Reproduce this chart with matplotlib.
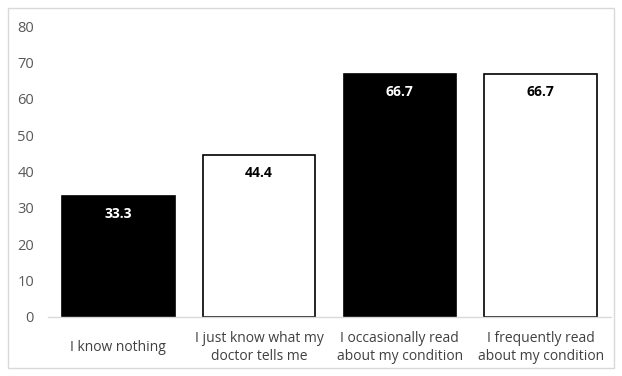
import matplotlib.pyplot as plt
from matplotlib.patches import Rectangle

categories = [
    "I know nothing",
    "I just know what my\ndoctor tells me",
    "I occasionally read\nabout my condition",
    "I frequently read\nabout my condition",
]
values = [33.3, 44.4, 66.7, 66.7]
fill_colors = ["black", "white", "black", "white"]
label_colors = ["white", "black", "white", "black"]

plt.rcParams['font.family'] = ['Open Sans', 'DejaVu Sans']

fig = plt.figure(figsize=(6.22, 3.76), dpi=100)
ax = fig.add_axes([48 / 622, 59 / 376, 563 / 622, 291 / 376])

x = range(len(categories))
bars = ax.bar(x, values, width=0.8, color=fill_colors, edgecolor="black", linewidth=1.2, zorder=2)

for bar, v, c in zip(bars, values, label_colors):
    ax.annotate(f"{v:.1f}", (bar.get_x() + bar.get_width() / 2, v),
                xytext=(0, -18), textcoords="offset pixels",
                ha="center", va="center", color=c, fontsize=10, fontweight="bold")

ax.set_xlim(-0.5, 3.5)
ax.set_ylim(0, 80)
ax.set_yticks(range(0, 81, 10))
ax.set_xticks(list(x))
ax.set_xticklabels(categories, fontsize=10, color="#404040", linespacing=1.2, va="center")
ax.tick_params(axis="y", labelsize=10.5, labelcolor="#595959", length=0, pad=10)
ax.tick_params(axis="x", length=0, pad=22)

for s in ["top", "right", "left"]:
    ax.spines[s].set_visible(False)
ax.spines["bottom"].set_color("#d9d9d9")
ax.spines["bottom"].set_linewidth(1)

fig.patches.append(Rectangle((8 / 622, 8 / 376), 606 / 622, 360 / 376,
                             transform=fig.transFigure, fill=False,
                             edgecolor="#d9d9d9", linewidth=1))

fig.savefig("out.png", dpi=100)
